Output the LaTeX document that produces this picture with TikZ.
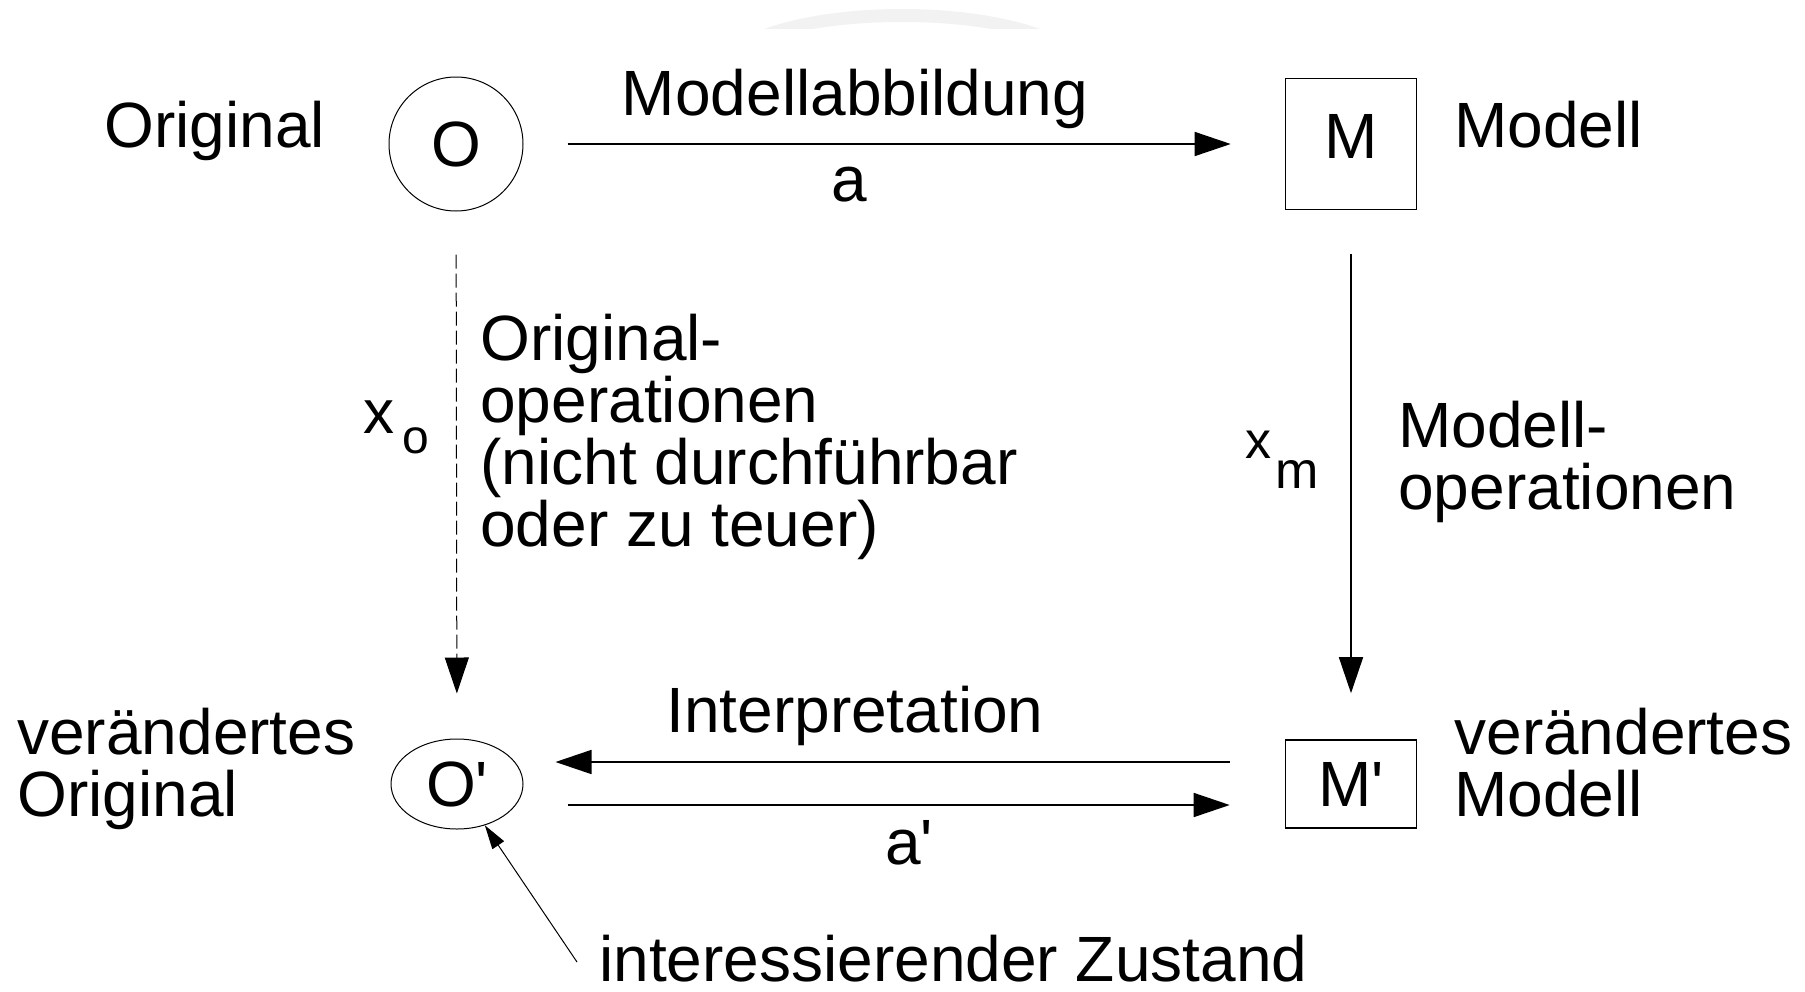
\documentclass[tikz,border=0pt]{standalone}
\usepackage{fontspec}
\setmainfont{Liberation Sans}[Ligatures=TeXOff]
\usetikzlibrary{shapes,arrows.meta}
\newcommand{\bigfont}{\fontsize{32}{31}\selectfont}
\newcommand{\opvar}[5]{{\fontsize{#1}{#1}\selectfont x}\kern#5\raisebox{-#4}{\fontsize{#3}{#3}\selectfont #2}}
\tikzset{
  txt/.style={inner sep=0pt, font=\bigfont, align=left},
  origstate/.style={draw, ellipse, line width=0.5pt, inner sep=0pt, font=\bigfont},
  modstate/.style={draw, rectangle, line width=0.8pt, inner sep=0pt, minimum width=65.5pt, font=\bigfont},
  arr/.style={line width=0.8pt, -{Triangle[length=18pt,width=12pt]}},
  ptr/.style={line width=0.5pt, -{Triangle[length=12pt,width=7pt]}}
}

\begin{document}
\begin{tikzpicture}[x=0.5pt,y=-0.5pt]
        \useasboundingbox (0,0) rectangle (1805,991);
        %faint arc at the top
        \begin{scope}
          \clip (700,0) rectangle (1100,28);
          \fill[black!5, even odd rule] (902,69) ellipse [x radius=185, y radius=60]
                                      (902,72) ellipse [x radius=175, y radius=50];
        \end{scope}
        %states
        \node[origstate, minimum width=67pt, minimum height=67pt] (o) at (456,144) {O};
        \node[modstate, minimum height=65.5pt, text depth=8pt] (m) at (1351,144) {M};
        \node[origstate, minimum width=66pt, minimum height=45pt] (op) at (457,784) {O'};
        \node[modstate, minimum height=44pt] (mp) at (1351,784) {M'};
        %labels (multi-line ones sit on their last baseline)
        \node[txt, anchor=base west] (orig) at (104,147) {Original};
        \node[txt, anchor=base west] (modl) at (1454,147) {Modell};
        \node[txt, anchor=base] (abb) at (855,115) {Modellabbildung};
        \node[txt, anchor=base] (la) at (849,201) {a};
        \node[txt, anchor=base west] (xo) at (363,433) {\opvar{31}{o}{24}{10pt}{4pt}};
        \node[txt, anchor=base west] (origop) at (480,546) {Original-\\operationen\\(nicht durchführbar\\oder zu teuer)};
        \node[txt, anchor=base west] (xm) at (1245,458) {\opvar{26}{m}{26}{15pt}{2pt}};
        \node[txt, anchor=base west] (modop) at (1398,509) {Modell-\\operationen};
        \node[txt, anchor=base west] (vorig) at (17,816) {verändertes\\Original};
        \node[txt, anchor=base west] (vmodl) at (1454,816) {verändertes\\Modell};
        \node[txt, anchor=base] (interp) at (855,732) {Interpretation};
        \node[txt, anchor=base] (lap) at (909,864) {a'};
        \node[txt, anchor=base west] (zst) at (599,981) {interessierender Zustand};
        \coordinate (zstp) at (577,962);
        %edges
        \draw[arr, shorten <=22pt, shorten >=27pt] (o) -- (m);
        \draw[arr, dash pattern=on 7pt off 2.5pt, line width=0.5pt, shorten <=21.5pt, shorten >=22.5pt] (o) -- (op);
        \draw[arr, shorten <=22pt, shorten >=23pt] (m) -- (mp);
        \draw[arr] ([shift={(-27.5pt,11pt)}]mp.west) -- ([shift={(16pt,11pt)}]op.east);
        \draw[arr] ([shift={(22pt,-10.5pt)}]op.east) -- ([shift={(-27.5pt,-10.5pt)}]mp.west);
        \draw[ptr] (zstp) -- (op);
        \end{tikzpicture}
\end{document}
